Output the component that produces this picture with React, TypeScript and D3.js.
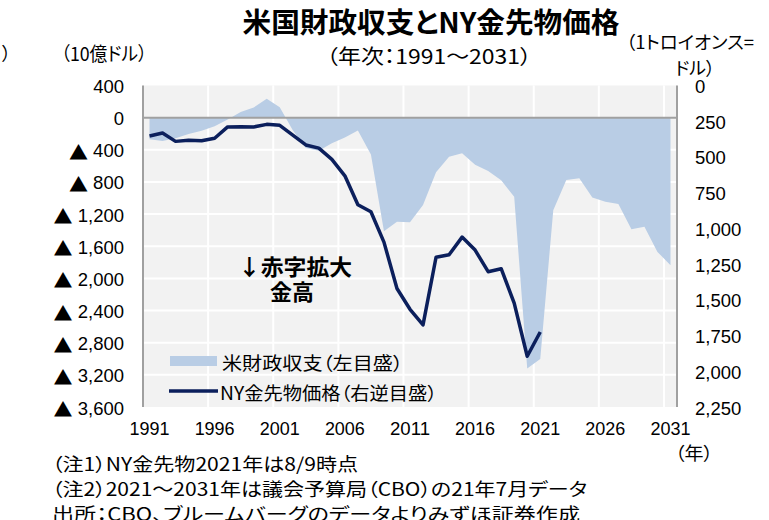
import React from "react";
import * as d3 from "d3";

const years = [1991,1992,1993,1994,1995,1996,1997,1998,1999,2000,2001,2002,2003,2004,2005,2006,2007,2008,2009,2010,2011,2012,2013,2014,2015,2016,2017,2018,2019,2020,2021,2022,2023,2024,2025,2026,2027,2028,2029,2030,2031];
const balance = [-269,-290,-255,-203,-164,-107,-22,69,126,236,128,-158,-378,-413,-318,-248,-161,-459,-1413,-1294,-1300,-1087,-680,-485,-442,-585,-665,-779,-984,-3120,-3003,-1153,-776,-755,-992,-1047,-1075,-1387,-1358,-1670,-1835];
const goldYears = [1991,1992,1993,1994,1995,1996,1997,1998,1999,2000,2001,2002,2003,2004,2005,2006,2007,2008,2009,2010,2011,2012,2013,2014,2015,2016,2017,2018,2019,2020,2021];
const gold = [353,333,391,383,387,369,290,288,290,272,279,347,416,438,517,632,834,884,1096,1421,1566,1675,1202,1184,1061,1152,1303,1282,1523,1895,1725];
const leftTicks = [400,0,-400,-800,-1200,-1600,-2000,-2400,-2800,-3200,-3600];
const rightTicks = [0,250,500,750,1000,1250,1500,1750,2000,2250];
const xTickYears = [1991,1996,2001,2006,2011,2016,2021,2026,2031];

const JP = "'Noto Sans CJK JP', 'Noto Sans', sans-serif";
const NUM = "'Liberation Sans', Arial, sans-serif";
const palt: React.CSSProperties = { fontFeatureSettings: '"palt"' };

export default function App() {
  const L = 143, R = 677, T = 85.5, B = 407;
  const x = d3.scaleBand<number>().domain(years).range([L, R]).padding(0);
  const bw = x.bandwidth();
  const cx = (yr: number) => (x(yr) as number) + bw / 2;
  const yL = d3.scaleLinear().domain([-3600, 400]).range([B, T]);
  const yR = d3.scaleLinear().domain([0, 2250]).range([T, B]);
  const fmt = d3.format(",");

  const areaData = years.map((yr, i) => ({ yr, v: balance[i] }));
  const area = d3.area<{ yr: number; v: number }>()
    .x(d => cx(d.yr)).y0(yL(0)).y1(d => yL(d.v));
  const lineData = goldYears.map((yr, i) => ({ yr, v: gold[i] }));
  const line = d3.line<{ yr: number; v: number }>()
    .x(d => cx(d.yr)).y(d => yR(d.v));

  return (
    <svg width={769} height={520} style={{ position: "absolute", left: 0, top: 0, background: "#fff" }}>
      {/* titles */}
      <text x={431} y={21} textAnchor="middle" dominantBaseline="central" fontFamily={JP} fontWeight={700} fontSize={28} textLength={377} lengthAdjust="spacingAndGlyphs" style={palt}>米国財政収支とNY金先物価格</text>
      <text x={429} y={55} textAnchor="middle" dominantBaseline="central" fontFamily={JP} fontSize={20} textLength={205} lengthAdjust="spacingAndGlyphs" style={palt}>（年次：1991～2031）</text>
      <text x={104} y={52} textAnchor="middle" dominantBaseline="central" fontFamily={JP} fontSize={19} textLength={86} lengthAdjust="spacingAndGlyphs" style={palt}>（10億ドル）</text>
      <text x={2} y={52} dominantBaseline="central" fontFamily={JP} fontSize={18} style={palt}>）</text>
      <text x={690} y={41} textAnchor="middle" dominantBaseline="central" fontFamily={JP} fontSize={18} textLength={128} lengthAdjust="spacingAndGlyphs" style={palt}>（1トロイオンス=</text>
      <text x={695} y={67} textAnchor="middle" dominantBaseline="central" fontFamily={JP} fontSize={18} textLength={40} lengthAdjust="spacingAndGlyphs" style={palt}>ドル）</text>

      {/* plot background */}
      <rect x={L} y={T} width={R - L} height={B - T} fill="#f2f2f2" />
      {leftTicks.filter(v => v !== 400 && v !== 0 && v !== -3600).map(v => (
        <line key={"h" + v} x1={L} x2={R} y1={yL(v)} y2={yL(v)} stroke="#fff" strokeWidth={2} />
      ))}
      {xTickYears.slice(1).map(yr => (
        <line key={"v" + yr} x1={x(yr) as number} x2={x(yr) as number} y1={T} y2={B} stroke="#fff" strokeWidth={2} />
      ))}

      <path d={area(areaData) as string} fill="#b9cde5" />
      <line x1={L} x2={R} y1={yL(0)} y2={yL(0)} stroke="#a0a0a0" strokeWidth={2} />
      <line x1={L} x2={L} y1={T} y2={B} stroke="#a0a0a0" strokeWidth={2} />
      <line x1={R} x2={R} y1={T} y2={B} stroke="#a0a0a0" strokeWidth={2} />
      <path d={line(lineData) as string} fill="none" stroke="#0b1f5c" strokeWidth={3.5} strokeLinejoin="round" />

      {/* left ticks */}
      {leftTicks.map(v => (
        <text key={"l" + v} x={124} y={yL(v) + 1} textAnchor="end" dominantBaseline="central" fontFamily={NUM} fontSize={18.5} fill="#000">
          {v < 0 ? <tspan fontFamily={JP} fontSize={19}>▲</tspan> : null}
          {v < 0 ? " " + fmt(-v) : fmt(v)}
        </text>
      ))}
      {/* right ticks */}
      {rightTicks.map(v => (
        <text key={"r" + v} x={695} y={yR(v) + 1} textAnchor="start" dominantBaseline="central" fontFamily={NUM} fontSize={18.5} fill="#000">
          {fmt(v)}
        </text>
      ))}
      {/* x ticks */}
      {xTickYears.map(yr => (
        <text key={"x" + yr} x={cx(yr)} y={428.5} textAnchor="middle" dominantBaseline="central" fontFamily={NUM} fontSize={19} textLength={40} lengthAdjust="spacingAndGlyphs">{yr}</text>
      ))}
      <text x={694} y={452} textAnchor="middle" dominantBaseline="central" fontFamily={JP} fontSize={18} textLength={38} lengthAdjust="spacingAndGlyphs" style={palt}>（年）</text>

      {/* annotation */}
      <text x={295} y={265} textAnchor="middle" dominantBaseline="central" fontFamily={JP} fontWeight={700} fontSize={22} textLength={114} lengthAdjust="spacingAndGlyphs" style={palt}>↓赤字拡大</text>
      <text x={292} y={290} textAnchor="middle" dominantBaseline="central" fontFamily={JP} fontWeight={700} fontSize={22} style={palt}>金高</text>

      {/* legend */}
      <rect x={170} y={356} width={47} height={10} fill="#b9cde5" />
      <text x={222} y={361.5} dominantBaseline="central" fontFamily={JP} fontSize={18} textLength={181} lengthAdjust="spacingAndGlyphs" style={palt}>米財政収支（左目盛）</text>
      <line x1={169} x2={218} y1={391} y2={391} stroke="#0b1f5c" strokeWidth={3.5} />
      <text x={220} y={391.5} dominantBaseline="central" fontFamily={JP} fontSize={18} textLength={217} lengthAdjust="spacingAndGlyphs" style={palt}>NY金先物価格（右逆目盛）</text>

      {/* notes */}
      <text x={52} y={463} dominantBaseline="central" fontFamily={JP} fontSize={18} textLength={306} lengthAdjust="spacingAndGlyphs" style={palt}>（注1）NY金先物2021年は8/9時点</text>
      <text x={52} y={488} dominantBaseline="central" fontFamily={JP} fontSize={18} textLength={535} lengthAdjust="spacingAndGlyphs" style={palt}>（注2）2021～2031年は議会予算局（CBO）の21年7月データ</text>
      <text x={52} y={513} dominantBaseline="central" fontFamily={JP} fontSize={18} textLength={528} lengthAdjust="spacingAndGlyphs" style={palt}>出所：CBO、ブルームバーグのデータよりみずほ証券作成</text>
    </svg>
  );
}
